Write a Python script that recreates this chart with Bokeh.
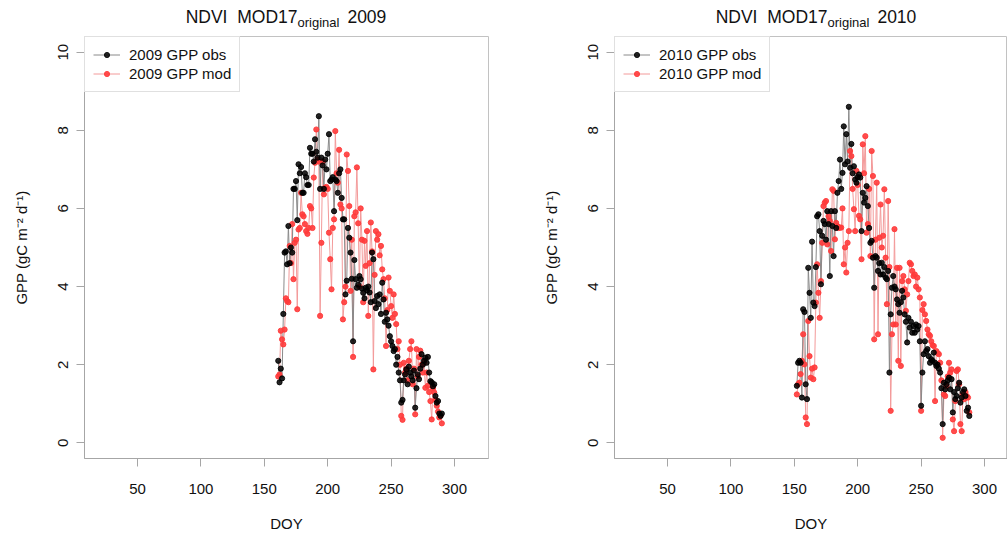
from bokeh.plotting import figure
from bokeh.models import Range1d, FixedTicker, Legend, LegendItem, Div
from bokeh.layouts import row, column
from bokeh.embed import file_html
from bokeh.resources import INLINE

# ---------------- data ----------------
doy_2009 = list(range(161, 291))
obs_2009 = [2.10, 1.55, 1.90, 1.65, 3.30, 4.87, 4.90, 4.57, 5.55, 4.60,
            5.00, 4.87, 6.50, 6.50, 6.70, 5.70, 7.13, 6.90, 7.06, 6.40,
            6.40, 6.90, 6.80, 6.60, 6.60, 7.55, 7.40, 7.40, 7.20, 7.77,
            7.45, 7.30, 8.36, 6.50, 7.30, 7.10, 6.50, 7.25, 7.00, 7.40,
            7.90, 6.70, 6.74, 6.80, 5.93, 6.74, 6.70, 6.40, 6.90, 7.00,
            6.27, 5.72, 5.72, 3.80, 4.15, 5.50, 5.25, 4.87, 4.20, 2.60,
            4.68, 4.19, 3.97, 4.05, 4.27, 4.19, 3.95, 3.84, 3.70, 3.97,
            3.90, 4.00, 3.85, 3.60, 4.87, 4.70, 3.63, 3.45, 3.76, 3.55,
            3.80, 3.30, 4.10, 3.67, 3.10, 3.33, 3.16, 3.00, 2.73, 2.60,
            2.48, 2.35, 2.40, 2.00, 2.20, 1.80, 1.60, 1.03, 1.10, 1.60,
            1.75, 1.88, 1.50, 1.95, 1.80, 1.70, 1.60, 1.85, 0.90, 1.40,
            1.75, 1.63, 1.90, 2.27, 2.00, 2.10, 2.18, 2.05, 2.20, 1.80,
            1.58, 1.55, 1.45, 1.50, 1.20, 1.03, 1.07, 0.75, 0.69, 0.75]
mod_2009 = [1.70, 1.75, 2.87, 2.65, 2.52, 2.90, 3.70, 3.63, 3.60, 5.04,
            4.60, 5.60, 4.19, 5.12, 5.20, 3.42, 5.46, 5.50, 6.40, 5.85,
            5.80, 5.60, 5.42, 5.35, 5.50, 6.06, 6.00, 5.50, 6.79, 7.17,
            8.02, 7.25, 7.20, 3.25, 5.12, 7.20, 6.36, 6.53, 6.55, 6.50,
            5.38, 4.70, 3.93, 5.50, 5.72, 7.98, 6.90, 6.66, 7.50, 6.10,
            6.00, 3.16, 3.60, 4.00, 7.38, 6.96, 6.06, 3.89, 5.20, 2.20,
            5.80, 5.90, 7.05, 5.62, 4.00, 6.00, 5.20, 3.60, 5.17, 4.53,
            5.42, 3.25, 4.60, 5.64, 4.90, 1.88, 4.30, 5.42, 5.20, 5.34,
            4.80, 5.04, 4.44, 4.19, 3.70, 2.48, 3.40, 4.23, 3.89, 3.50,
            3.20, 3.80, 3.30, 3.04, 2.40, 2.60, 2.00, 0.69, 0.59, 2.05,
            1.80, 1.90, 1.60, 2.10, 2.40, 2.60, 1.50, 1.90, 0.73, 2.40,
            1.70, 2.20, 2.36, 2.00, 1.80, 2.05, 1.41, 1.80, 1.46, 1.30,
            1.07, 0.60, 1.40, 1.29, 1.10, 0.95, 0.80, 0.65, 0.70, 0.50]

doy_2010 = list(range(152, 289))
obs_2010 = [1.46, 2.05, 2.10, 2.05, 1.16, 3.42, 3.35, 1.50, 1.12, 4.48,
            3.84, 3.20, 5.15, 3.59, 3.50, 4.50, 5.80, 5.85, 5.42, 4.06,
            5.30, 5.68, 5.60, 5.20, 5.93, 5.60, 4.27, 5.93, 5.55, 4.78,
            5.93, 5.50, 6.40, 6.70, 7.25, 6.50, 6.91, 8.10, 7.13, 7.90,
            7.20, 8.60, 7.04, 7.65, 6.90, 7.08, 6.74, 6.66, 6.80, 6.87,
            6.79, 5.42, 6.40, 6.15, 6.27, 6.57, 6.06, 5.50, 5.12, 5.17,
            4.74, 3.97, 4.78, 4.74, 4.40, 4.60, 4.31, 4.61, 4.31, 4.50,
            4.23, 4.19, 4.40, 1.80, 3.29, 3.97, 4.27, 4.00, 3.93, 3.67,
            3.55, 3.33, 3.60, 3.89, 3.72, 3.29, 3.10, 2.57, 3.20, 2.95,
            3.10, 2.82, 2.99, 2.82, 3.03, 2.90, 2.99, 2.60, 0.95, 1.80,
            2.27, 2.60, 2.35, 2.40, 2.22, 2.05, 2.14, 2.10, 2.31, 2.05,
            1.97, 2.00, 1.90, 1.80, 1.40, 0.48, 1.54, 1.37, 1.50, 1.60,
            1.67, 1.37, 1.63, 0.78, 1.30, 1.12, 1.20, 1.40, 1.54, 1.03,
            1.16, 1.30, 1.37, 1.20, 0.82, 0.90, 0.69]
mod_2010 = [1.24, 1.50, 1.54, 1.76, 2.10, 2.78, 2.01, 0.65, 0.48, 3.12,
            2.22, 1.67, 1.90, 1.63, 1.93, 3.59, 4.57, 3.84, 3.20, 4.14,
            5.12, 6.06, 6.15, 6.19, 5.08, 5.80, 5.68, 4.91, 6.49, 6.45,
            5.21, 5.63, 5.55, 5.50, 5.51, 5.51, 6.00, 4.57, 5.00, 4.36,
            5.12, 5.42, 7.47, 7.34, 6.50, 5.98, 5.42, 6.96, 6.60, 5.81,
            5.72, 4.70, 7.64, 6.90, 7.85, 5.38, 5.60, 6.50, 4.78, 7.47,
            6.83, 2.65, 5.20, 6.66, 2.78, 5.25, 6.10, 5.00, 5.30, 6.49,
            4.74, 3.55, 6.19, 4.50, 0.82, 2.78, 3.03, 5.47, 3.03, 4.48,
            2.10, 4.48, 1.97, 4.14, 4.27, 3.93, 3.38, 3.80, 4.14, 4.61,
            4.57, 4.40, 4.27, 4.31, 4.00, 4.23, 3.93, 3.72, 0.82, 3.40,
            3.55, 3.29, 3.12, 2.90, 2.78, 2.74, 2.60, 2.50, 2.48, 1.07,
            2.35, 2.30, 2.27, 2.05, 1.60, 0.13, 1.24, 1.20, 1.46, 1.70,
            2.05, 1.80, 1.88, 0.60, 0.30, 1.07, 1.84, 1.88, 1.50, 0.48,
            0.30, 1.24, 1.12, 1.30, 1.20, 1.16, 0.78]

x_ticks = [50, 100, 150, 200, 250, 300]
y_ticks = [0, 2, 4, 6, 8, 10]

# ---------------- styling ----------------
FONT = "Liberation Sans"
BOX = "#c2c2c2"
AXIS = "#a6a6a6"
TXT = "#111111"
X0, Y0, Y1 = 8.2, -0.4, 10.4
FRAME_W = 404
SX = FRAME_W / (326.8 - X0)   # px per x unit
TITLE_H = 36


def title_div(year, width):
    html = (
        f'<div style="position:absolute;left:286px;top:7px;transform:translateX(-50%);'
        f'white-space:nowrap;font-family:\'{FONT}\';font-size:17.5px;line-height:20px;color:{TXT}">'
        f'NDVI&nbsp; MOD17<span style="font-size:13px;position:relative;top:4px">original</span>'
        f'<span style="margin-left:8px">{year}</span></div>'
    )
    return Div(text=html, width=width, height=TITLE_H, margin=0,
               styles={"position": "relative", "overflow": "visible"})


def panel(year, doy, obs, mod, width, border_right):
    frame_w = width - 84 - border_right
    x_end = X0 + frame_w / SX
    p = figure(width=width, height=536 - TITLE_H, title=None,
               x_range=Range1d(X0, x_end), y_range=Range1d(Y0, Y1),
               output_backend="svg", toolbar_location=None,
               min_border_left=84, min_border_right=border_right,
               min_border_top=0, min_border_bottom=78, margin=0)
    p.grid.visible = False
    p.outline_line_color = BOX
    p.outline_line_width = 1
    p.background_fill_color = "white"
    p.border_fill_color = "white"

    for ax in (p.xaxis[0], p.yaxis[0]):
        ax.axis_line_color = AXIS
        ax.major_tick_line_color = AXIS
        ax.minor_tick_line_color = None
        ax.major_tick_in = 0
        ax.major_tick_out = 8
        ax.major_label_text_font = FONT
        ax.major_label_text_font_size = "15px"
        ax.major_label_text_color = TXT
        ax.axis_label_text_font = FONT
        ax.axis_label_text_font_size = "15px"
        ax.axis_label_text_font_style = "normal"
        ax.axis_label_text_color = TXT

    p.xaxis.ticker = FixedTicker(ticks=x_ticks)
    p.yaxis.ticker = FixedTicker(ticks=y_ticks)
    p.xaxis.axis_label = "DOY"
    p.xaxis.major_label_standoff = 17
    p.xaxis.axis_label_standoff = 18
    p.yaxis.axis_label = "GPP (gC m\u207b\u00b2 d\u207b\u00b9)"
    p.yaxis.major_label_orientation = "vertical"
    p.yaxis.major_label_standoff = 8
    p.yaxis.axis_label_standoff = 26

    l_mod = p.line(doy, mod, line_color="#f39a9a", line_width=1)
    l_obs = p.line(doy, obs, line_color="#8a8a8a", line_width=1)
    s_mod = p.scatter(doy, mod, size=5.2, fill_color="#ff3b3b", line_color="#ff3b3b",
                      fill_alpha=0.9, line_alpha=0.9)
    s_obs = p.scatter(doy, obs, size=5.2, fill_color="#000000", line_color="#000000",
                      fill_alpha=0.85, line_alpha=0.85)

    legend = Legend(items=[LegendItem(label=f"{year} GPP obs", renderers=[l_obs, s_obs]),
                           LegendItem(label=f"{year} GPP mod", renderers=[l_mod, s_mod])],
                    location="top_left")
    legend.margin = 0
    legend.padding = 8
    legend.spacing = 0
    legend.glyph_height = 13
    legend.label_height = 19
    legend.glyph_width = 27
    legend.label_standoff = 9
    legend.label_text_font = FONT
    legend.label_text_font_size = "15px"
    legend.label_text_color = TXT
    legend.border_line_color = BOX
    legend.background_fill_alpha = 1.0
    p.add_layout(legend)
    return column(title_div(year, width), p, spacing=0)


c1 = panel(2009, doy_2009, obs_2009, mod_2009, 530, 42)
c2 = panel(2010, doy_2010, obs_2010, mod_2010, 477, 0)
layout = row(c1, c2, spacing=0)

open("out.html", "w").write(file_html(layout, INLINE))
